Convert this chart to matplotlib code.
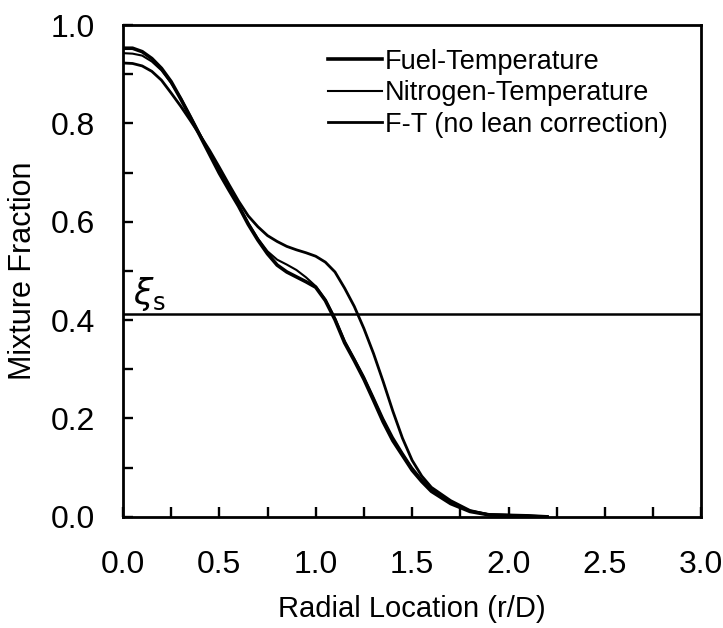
import matplotlib
matplotlib.use('Agg')

from matplotlib import pyplot as plt
from matplotlib.ticker import MultipleLocator

plt.rcParams['font.family'] = ['Liberation Sans', 'DejaVu Sans']
plt.rcParams['mathtext.fontset'] = 'dejavusans'

# radial location r/D
r = [0.0, 0.05, 0.1, 0.15, 0.2, 0.25, 0.3, 0.35, 0.4, 0.45, 0.5, 0.55,
     0.6, 0.65, 0.7, 0.75, 0.8, 0.85, 0.9, 0.95, 1.0, 1.05, 1.1, 1.15,
     1.2, 1.25, 1.3, 1.35, 1.4, 1.45, 1.5, 1.55, 1.6, 1.7, 1.8, 1.9,
     2.0, 2.1, 2.2]

fuel_temp = [0.953, 0.953, 0.946, 0.932, 0.912, 0.885, 0.850, 0.813,
             0.775, 0.737, 0.699, 0.665, 0.632, 0.595, 0.563, 0.535,
             0.512, 0.498, 0.488, 0.478, 0.467, 0.440, 0.401, 0.354,
             0.318, 0.280, 0.237, 0.193, 0.155, 0.125, 0.095, 0.072,
             0.052, 0.027, 0.011, 0.004, 0.003, 0.002, 0.0]

nitrogen_temp = [0.943, 0.942, 0.938, 0.926, 0.908, 0.882, 0.852, 0.815,
                 0.778, 0.740, 0.703, 0.668, 0.634, 0.598, 0.566, 0.540,
                 0.523, 0.513, 0.502, 0.487, 0.469, 0.442, 0.404, 0.358,
                 0.322, 0.285, 0.243, 0.200, 0.162, 0.130, 0.100, 0.076,
                 0.056, 0.029, 0.012, 0.005, 0.004, 0.002, 0.0]

ft_no_lean = [0.923, 0.922, 0.917, 0.906, 0.888, 0.862, 0.835, 0.806,
              0.776, 0.745, 0.711, 0.676, 0.642, 0.612, 0.590, 0.572,
              0.560, 0.550, 0.543, 0.537, 0.530, 0.518, 0.498, 0.465,
              0.428, 0.383, 0.332, 0.275, 0.215, 0.160, 0.115, 0.083,
              0.060, 0.033, 0.013, 0.004, 0.003, 0.002, 0.0]

xi_s = 0.413

fig = plt.figure(figsize=(7.23, 6.28), dpi=100)
ax = fig.add_axes([0.170, 0.177, 0.800, 0.783])

ax.plot(r, fuel_temp, color='black', lw=2.6, label='Fuel-Temperature')
ax.plot(r, nitrogen_temp, color='black', lw=1.5, label='Nitrogen-Temperature')
ax.plot(r, ft_no_lean, color='black', lw=2.0, label='F-T (no lean correction)')
ax.axhline(xi_s, color='black', lw=1.8)
ax.text(0.05, xi_s + 0.002, r'$\xi_\mathrm{s}$', fontsize=25, ha='left', va='bottom')

ax.set_xlim(0, 3)
ax.set_ylim(0, 1)
ax.xaxis.set_major_locator(MultipleLocator(0.5))
ax.xaxis.set_minor_locator(MultipleLocator(0.25))
ax.yaxis.set_major_locator(MultipleLocator(0.2))
ax.yaxis.set_minor_locator(MultipleLocator(0.1))
ax.xaxis.set_major_formatter(lambda v, p: '%.1f' % v)
ax.yaxis.set_major_formatter(lambda v, p: '%.1f' % v)
ax.tick_params(which='both', direction='in', length=7, width=1.7,
               top=False, right=False)
ax.tick_params(axis='x', which='major', labelsize=23, pad=24)
ax.tick_params(axis='y', which='major', labelsize=23, pad=20)
for s in ax.spines.values():
    s.set_linewidth(2.0)

ax.set_xlabel('Radial Location (r/D)', fontsize=21, labelpad=11)
ax.set_ylabel('Mixture Fraction', fontsize=22, labelpad=9)

ax.legend(loc='upper left', bbox_to_anchor=(0.355, 0.952), frameon=False,
          fontsize=19.5, handlelength=2.0, handletextpad=0.1,
          labelspacing=0.2, borderaxespad=0, borderpad=0)

fig.savefig('out.png', dpi=100)
